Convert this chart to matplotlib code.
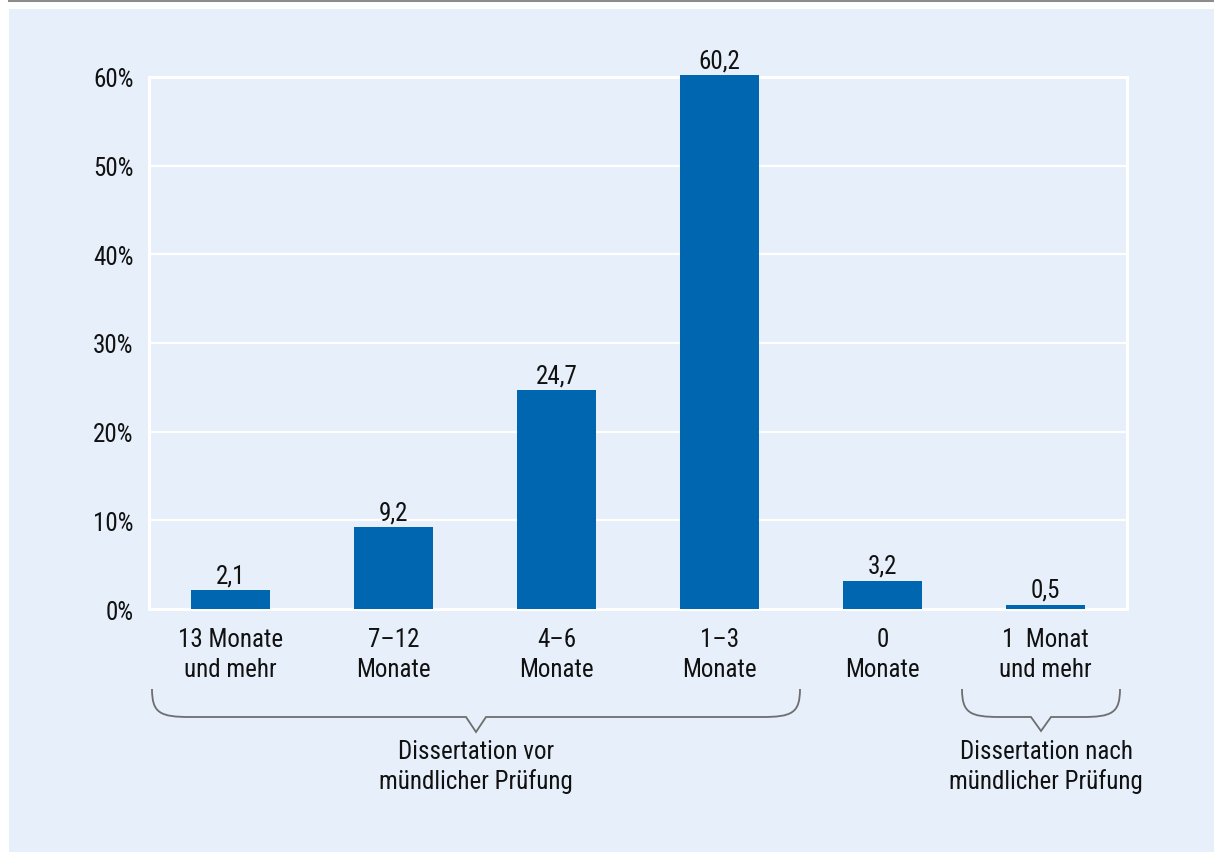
import matplotlib
matplotlib.use("Agg")
import matplotlib.pyplot as plt
from matplotlib.path import Path
from matplotlib.patches import PathPatch, Rectangle
from matplotlib import font_manager

categories = ["13 Monate\nund mehr", "7–12\nMonate", "4–6\nMonate", "1–3\nMonate",
              "0\nMonate", "1  Monat\nund mehr"]
values = [2.1, 9.2, 24.7, 60.2, 3.2, 0.5]
value_labels = ["2,1", "9,2", "24,7", "60,2", "3,2", "0,5"]
y_ticks = [0, 10, 20, 30, 40, 50, 60]
y_tick_labels = ["0%", "10%", "20%", "30%", "40%", "50%", "60%"]
group_labels = ["Dissertation vor\nmündlicher Prüfung", "Dissertation nach\nmündlicher Prüfung"]

# prefer a narrow face if one is installed
condensed = [f for f in font_manager.fontManager.ttflist
             if f.stretch in ("condensed", "semi-condensed", "extra-condensed")
             or "Narrow" in f.name or "Condensed" in f.name]
names = [f.name for f in condensed]
family = "DejaVu Sans"
for cand in ["Liberation Sans Narrow", "Roboto Condensed", "Open Sans Condensed",
             "Noto Sans Condensed", "DejaVu Sans Condensed"]:
    if cand in names:
        family = cand
        break
plt.rcParams["font.family"] = [family, "DejaVu Sans"]
plt.rcParams["font.stretch"] = "condensed"

FS = 18
LS = 1.3

W, H = 1214, 854
fig = plt.figure(figsize=(W / 100, H / 100), dpi=100)
fig.patch.set_facecolor("white")

panel_col = "#E6EFFA"
bar_col = "#0066B0"
txt_col = "#111111"

def fx(px):
    return px / W

def fy(py):
    return 1 - py / H

# background panel and top rule
fig.add_artist(Rectangle((fx(9), fy(853)), fx(W - 9), fy(10) - fy(853),
                         transform=fig.transFigure, facecolor=panel_col,
                         edgecolor="none", zorder=0))
fig.add_artist(plt.Line2D([fx(9), 1], [fy(1), fy(1)], transform=fig.transFigure,
                          color="#8C8C8C", lw=2.2, zorder=1))

ax = fig.add_axes([fx(149), fy(610), fx(1127 - 149), fy(78) - fy(610)])
ax.set_facecolor(panel_col)
x = list(range(len(values)))
ax.bar(x, values, width=0.49, color=bar_col, zorder=3, clip_on=False)
ax.set_xlim(-0.5, 5.5)
ax.set_ylim(0, 60)
ax.set_yticks(y_ticks)
ax.set_yticklabels(y_tick_labels, fontsize=FS)
ax.set_xticks(x)
ax.set_xticklabels(categories, fontsize=FS, linespacing=LS)
ax.tick_params(axis="both", length=0, colors=txt_col)
ax.tick_params(axis="y", pad=11)
ax.tick_params(axis="x", pad=13)
ax.grid(axis="y", color="white", lw=1.6, zorder=1)
for s in ax.spines.values():
    s.set_color("white")
    s.set_linewidth(2.2)

for xi, v, lab in zip(x, values, value_labels):
    ax.annotate(lab, (xi, v), xytext=(0, 2), textcoords="offset points",
                ha="center", va="bottom", fontsize=FS, color=txt_col,
                annotation_clip=False)

def brace(x0, x1, xm, ytop, ybot, ytip):
    r = 38
    verts = [(x0, ytop),
             (x0, ybot - 4), (x0 + 8, ybot), (x0 + r, ybot),
             (xm - 10, ybot), (xm, ytip), (xm + 10, ybot),
             (x1 - r, ybot),
             (x1 - 8, ybot), (x1, ybot - 4), (x1, ytop)]
    codes = [Path.MOVETO,
             Path.CURVE4, Path.CURVE4, Path.CURVE4,
             Path.LINETO, Path.LINETO, Path.LINETO,
             Path.LINETO,
             Path.CURVE4, Path.CURVE4, Path.CURVE4]
    pts = [(fx(a), fy(b)) for a, b in verts]
    fig.add_artist(PathPatch(Path(pts, codes), transform=fig.transFigure,
                             facecolor="none", edgecolor="#6E6E6E", lw=1.3, zorder=2))

brace(152, 800, 476, 690, 718, 733)
brace(962, 1120, 1041, 690, 718, 732)

fig.text(fx(476), fy(767), group_labels[0], ha="center", va="center",
         fontsize=FS, linespacing=LS, color=txt_col)
fig.text(fx(1046), fy(767), group_labels[1], ha="center", va="center",
         fontsize=FS, linespacing=LS, color=txt_col)

fig.savefig("out.png", dpi=100, facecolor=fig.get_facecolor())
